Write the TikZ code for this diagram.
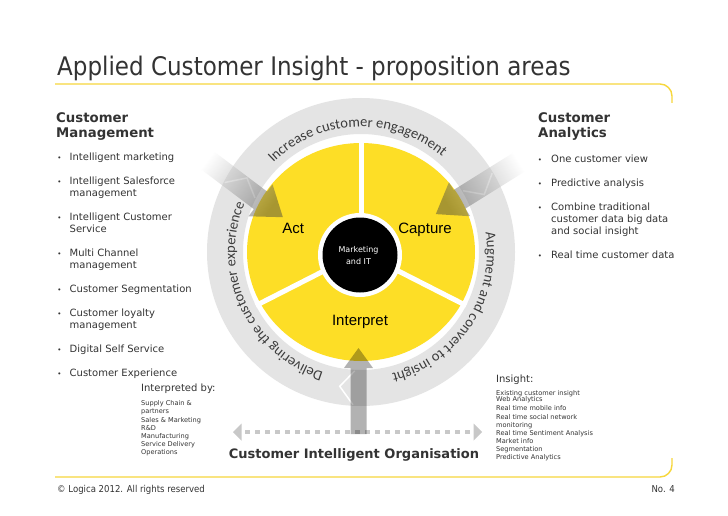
\documentclass[tikz,border=0pt]{standalone}
\usepackage{fontspec}
\setmainfont{DejaVu Sans}
\newfontfamily\dvc{DejaVu Sans Condensed}
\newfontfamily\libs{Liberation Sans}
\newfontfamily\carl{Carlito}
\usetikzlibrary{calc,decorations.text}
\definecolor{eyyellow}{RGB}{253,222,38}
\definecolor{ringgray}{RGB}{228,228,228}
\definecolor{lineyellow}{RGB}{247,215,60}
\definecolor{txtgray}{RGB}{51,51,51}
\definecolor{ringtxt}{RGB}{60,60,60}
\definecolor{dashgray}{RGB}{200,200,200}
\begin{document}
\begin{tikzpicture}[x=1pt,y=1pt,
  txt/.style={inner sep=0pt, text=txtgray, anchor=base west},
  body/.style={txt, font=\fontsize{10}{12}\selectfont},
  head/.style={txt, font=\bfseries\fontsize{13.3}{14}\selectfont},
  small/.style={txt, font=\fontsize{6.6}{8}\selectfont},
  bul/.style={inner sep=0pt, text=txtgray, anchor=base, font=\fontsize{7}{8}\selectfont},
  seglabel/.style={inner sep=0pt, anchor=base, text=black, font=\libs\fontsize{15}{15}\selectfont},
  frameline/.style={draw=lineyellow, line width=1.4pt},
  chev/.style={draw=white, line width=1.5pt},
  arrowshade/.style={top color=black!75, bottom color=white, fill opacity=0.45},
  divider/.style={draw=white, line width=5pt}]
\useasboundingbox (0,0) rectangle (728,515);
\fill[white] (0,0) rectangle (728,515);

% frame lines
\draw[frameline] (55,431) -- (660,431) arc[start angle=90,end angle=0,radius=12] -- (672,412);
\draw[frameline] (55,38) -- (660,38) arc[start angle=-90,end angle=0,radius=12] -- (672,57);

% title
\node[txt, font=\dvc\fontsize{25.6}{26}\selectfont] (title) at (57,439) {Applied Customer Insight - proposition areas};

% ring
\coordinate (C) at (361,263);
\fill[ringgray, even odd rule] (C) circle[radius=154] (C) circle[radius=118];
\draw[chev] ($(C)+(31:153)$) -- ($(C)+(25:136)$) -- ($(C)+(31:119)$);
\draw[chev] ($(C)+(-93:153)$) -- ($(C)+(-99:136)$) -- ($(C)+(-93:119)$);
\draw[chev] ($(C)+(153:153)$) -- ($(C)+(147:136)$) -- ($(C)+(153:119)$);

% ring texts
\path[decorate, decoration={text along path, text align=center, text color=ringtxt,
  text={|\carl\fontsize{14.5}{15}\selectfont|Increase customer engagement}}]
  ($(C)+(152:125)$) arc[start angle=152, end angle=32, radius=125];
\path[decorate, decoration={text along path, text align=center, text color=ringtxt,
  text={|\carl\fontsize{14.5}{15}\selectfont|Augment and convert to insight}}]
  ($(C)+(27:126)$) arc[start angle=27, end angle=-94, radius=126];
\path[decorate, decoration={text along path, text align=center, text color=ringtxt,
  text={|\carl\fontsize{14.5}{15}\selectfont|Delivering the customer experience}}]
  ($(C)+(265:126)$) arc[start angle=265, end angle=145, radius=126];

% yellow wheel
\fill[eyyellow] (C) ellipse[x radius=114, y radius=109];
\draw[divider] (C) -- ($(C)+(90:112)$);
\draw[divider] (C) -- ($(C)+(207:118)$);
\draw[divider] (C) -- ($(C)+(333:118)$);
\fill[white] (360,260) circle[radius=42];
\fill[black] (360,260) circle[radius=37.5];

% gray arrows
\coordinate (ta) at (203,358);
\coordinate (tb) at (524,356);
\shade[arrowshade, shading angle=-127]
  ($(ta)+(53:11)$) -- ($(ta)+(-37:72)+(53:11)$) -- ($(ta)+(-37:72)+(53:20)$)
  -- ($(ta)+(-37:100)$) -- ($(ta)+(-37:72)+(-127:20)$) -- ($(ta)+(-37:72)+(-127:11)$)
  -- ($(ta)+(-127:11)$) -- cycle;
\shade[arrowshade, shading angle=122]
  ($(tb)+(302:11)$) -- ($(tb)+(212:76)+(302:11)$) -- ($(tb)+(212:76)+(302:20)$)
  -- ($(tb)+(212:104)$) -- ($(tb)+(212:76)+(122:20)$) -- ($(tb)+(212:76)+(122:11)$)
  -- ($(tb)+(122:11)$) -- cycle;

% horizontal dashed double arrow
\coordinate (dl) at (245,83);
\coordinate (dr) at (472,83);
\draw[dashgray, line width=4pt, dash pattern=on 5pt off 5pt] (dl) -- (dr);
\fill[dashgray] (233,83) -- (241.5,91.5) -- (241.5,74.5) -- cycle;
\fill[dashgray] (482,83) -- (473.5,91.5) -- (473.5,74.5) -- cycle;

% vertical arrow
\fill[black, fill opacity=0.3] (350.5,81) -- (350.5,147) -- (344,147) -- (358.5,167)
  -- (373,147) -- (366.5,147) -- (366.5,81) -- cycle;

% wheel labels
\node[seglabel] (act) at (293.3,281.3) {Act};
\node[seglabel] (capture) at (425,281.3) {Capture};
\node[seglabel] (interpret) at (360,189.6) {Interpret};
\node[inner sep=0pt, align=center, text=white, font=\fontsize{8}{11.7}\selectfont] (mkt) at (358.5,259.5) {Marketing\\and IT};

% left column
\node[head] (cm1) at (56,392.8) {Customer};
\node[head] (cm2) at (56,377.8) {Management};
\foreach \yy/\tt [count=\i] in {354.4/Intelligent marketing, 330.4/Intelligent Salesforce, 318.4/management,
  294.4/Intelligent Customer, 282.4/Service, 258.4/Multi Channel, 246.4/management,
  222.4/Customer Segmentation, 198.4/Customer loyalty, 186.4/management,
  162.4/Digital Self Service, 138.4/Customer Experience}
  \node[body] (l\i) at (69.5,\yy) {\tt};
\foreach \yy [count=\i] in {354.4,330.4,294.4,258.4,222.4,198.4,162.4,138.4}
  \node[bul] (lb\i) at (59.5,\yy) {•};

% right column
\node[head] (ca1) at (538,392.8) {Customer};
\node[head] (ca2) at (538,377.5) {Analytics};
\foreach \yy/\tt [count=\i] in {352.1/One customer view, 328.1/Predictive analysis, 304.1/Combine traditional,
  292.1/customer data big data, 280.1/and social insight, 256.1/Real time customer data}
  \node[body] (r\i) at (551,\yy) {\tt};
\foreach \yy [count=\i] in {352.1,328.1,304.1,256.1}
  \node[bul] (rb\i) at (540,\yy) {•};

% interpreted by
\node[body] (ib) at (141,123.1) {Interpreted by:};
\foreach \yy/\tt [count=\i] in {109.3/Supply Chain \&, 101.15/partners, 93/Sales \& Marketing, 84.85/R\&D,
  76.7/Manufacturing, 68.55/Service Delivery, 60.4/Operations}
  \node[small] (ib\i) at (141,\yy) {\tt};

% insight
\node[body] (ins) at (496,132.4) {Insight:};
\foreach \yy/\tt [count=\i] in {119.3/Existing customer insight, 113.3/Web Analytics, 104.3/Real time mobile info,
  95.9/Real time social network, 87.6/monitoring, 79.3/Real time Sentiment Analysis,
  71.6/Market info, 63.6/Segmentation, 55.9/Predictive Analytics}
  \node[small] (ins\i) at (496,\yy) {\tt};

% organisation
\node[inner sep=0pt, anchor=base, text=txtgray, font=\bfseries\fontsize{13}{14}\selectfont] (cio) at (354,57) {Customer Intelligent Organisation};

% footer
\node[txt, font=\dvc\fontsize{9.5}{10}\selectfont] (copy) at (57,22.5) {© Logica 2012. All rights reserved};
\node[inner sep=0pt, anchor=base east, text=txtgray, font=\dvc\fontsize{9.5}{10}\selectfont] (no) at (675,22.5) {No. 4};
\end{tikzpicture}
\end{document}
